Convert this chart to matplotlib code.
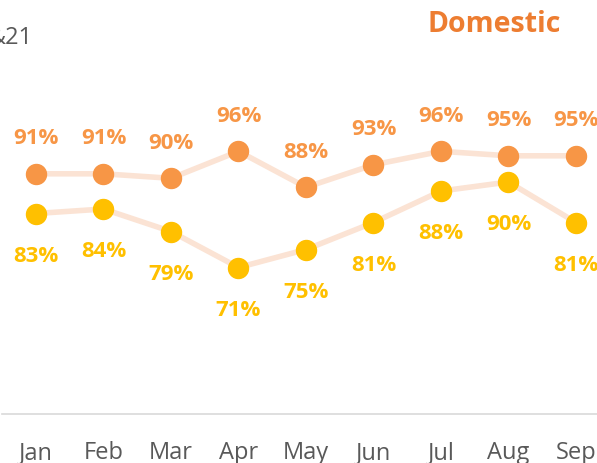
import matplotlib
matplotlib.use("Agg")
import matplotlib.pyplot as plt

months = ["Jan", "Feb", "Mar", "Apr", "May", "Jun", "Jul", "Aug", "Sep"]
series_a = [91, 91, 90, 96, 88, 93, 96, 95, 95]   # orange, labels above
series_b = [83, 84, 79, 71, 75, 81, 88, 90, 81]   # yellow, labels below

LINE_C = "#FBE3D4"
ORANGE = "#F79646"
YELLOW = "#FFC000"
GRAY = "#595959"
FONT = "Open Sans"

fig = plt.figure(figsize=(5.97, 4.64), dpi=100)
W, H = 597, 464
left_px, right_px, bot_px, top_px = 2.25, 609.75, 415, 60
ax = fig.add_axes([left_px / W, 1 - bot_px / H, (right_px - left_px) / W,
                   (bot_px - top_px) / H])
ax2 = ax.twinx()

x = list(range(len(months)))

ax.plot(x, series_a, color=LINE_C, lw=4.0, zorder=1, solid_capstyle="round")
ax.plot(x, series_a, ls="none", marker="o", ms=14.4, mfc=ORANGE, mec=ORANGE, zorder=3)
ax2.plot(x, series_b, color=LINE_C, lw=4.0, zorder=1, solid_capstyle="round")
ax2.plot(x, series_b, ls="none", marker="o", ms=14.4, mfc=YELLOW, mec=YELLOW, zorder=3)

for xi, v in zip(x, series_a):
    ax.annotate(f"{v}%", (xi, v), xytext=(0, 22), textcoords="offset points",
                ha="center", va="baseline", color=ORANGE, fontsize=16,
                fontweight="bold", family=FONT)
for xi, v in zip(x, series_b):
    ax2.annotate(f"{v}%", (xi, v), xytext=(0, -34), textcoords="offset points",
                 ha="center", va="baseline", color=YELLOW, fontsize=16,
                 fontweight="bold", family=FONT)

# scales
ax.set_ylim((584.3 - bot_px) / 4.5, (584.3 - top_px) / 4.5)
ax2.set_ylim((588.0 - bot_px) / 4.5, (588.0 - top_px) / 4.5)
ax.set_xlim(-0.5, len(months) - 0.5)

for a in (ax, ax2):
    for s in ("top", "right", "left"):
        a.spines[s].set_visible(False)
    a.set_yticks([])
    a.patch.set_visible(False)
ax2.spines["bottom"].set_visible(False)
ax.spines["bottom"].set_color("#D9D9D9")
ax.spines["bottom"].set_linewidth(1.2)

ax.set_xticks(x)
ax.set_xticklabels(months, fontsize=17, color=GRAY, family=FONT)
ax.tick_params(axis="x", length=0, pad=19)
ax2.tick_params(axis="x", length=0)

fig.text(494 / W, 1 - 24 / H, "Domestic", ha="center", va="center",
         color="#ED7D31", fontsize=20.5, fontweight="bold", family=FONT)
fig.text(33 / W, 1 - 44 / H, "&21", ha="right", va="baseline",
         color=GRAY, fontsize=17, family=FONT)

fig.savefig("out.png", dpi=100)
